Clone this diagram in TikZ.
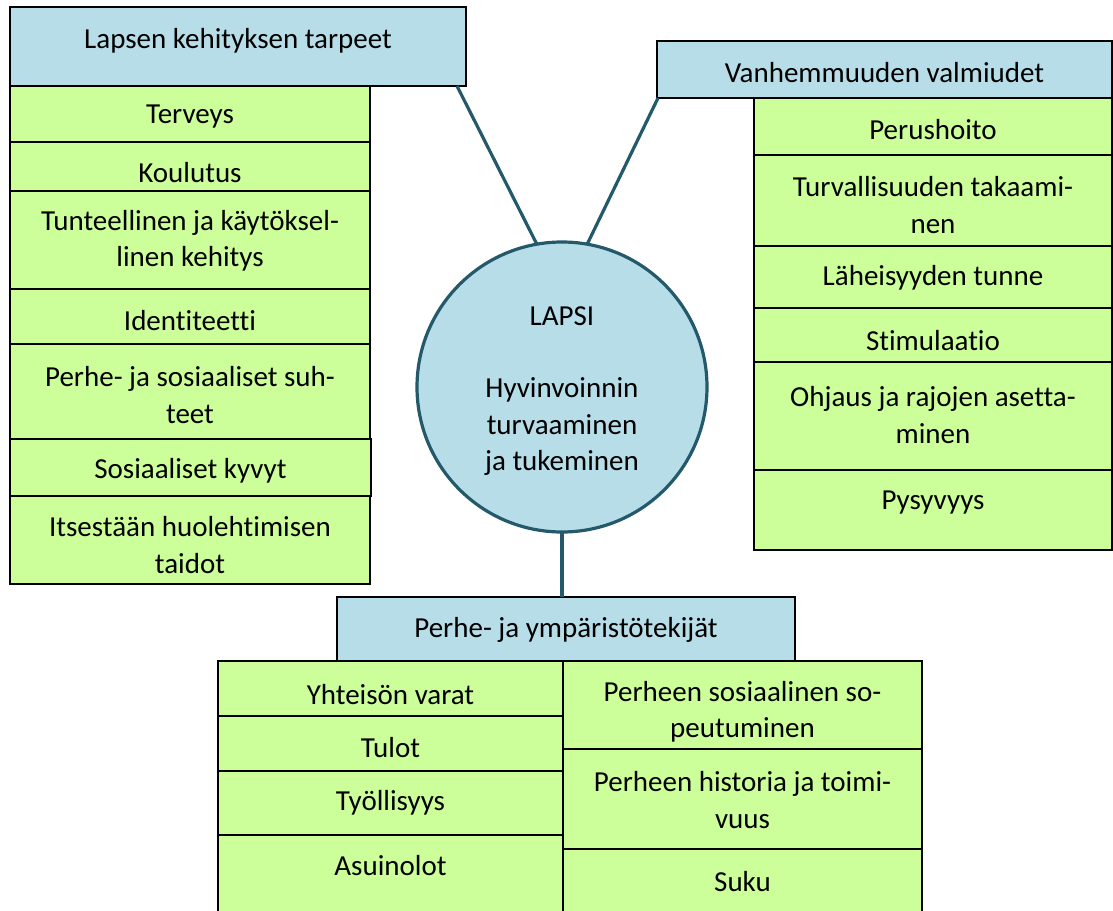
\documentclass[tikz,border=0pt]{standalone}
\usepackage{fontspec}
\setmainfont{Carlito}[Ligatures=NoCommon]
\definecolor{hdrblue}{HTML}{B7DDE8}
\definecolor{cellgreen}{HTML}{CCFF99}
\definecolor{linkteal}{HTML}{23596A}
\tikzset{
  boxbase/.style={rectangle, draw=black, line width=1.8pt, inner sep=0pt, outer sep=0pt},
  hdrbox/.style={boxbase, fill=hdrblue},
  cellbox/.style={boxbase, fill=cellgreen},
  celltext/.style={align=center, inner sep=0pt, font=\fontsize{29}{36.5}\selectfont},
  link/.style={draw=linkteal, line width=3.2pt},
  hub/.style={circle, draw=linkteal, line width=3.2pt, fill=hdrblue, minimum size=290pt, inner sep=0pt, outer sep=0pt}
}
% #1 name, #2 style, #3 x1, #4 y1, #5 x2, #6 y2, #7 text y, #8 text
\newcommand{\mycell}[8]{%
  \node[#2, minimum width={(#5-#3)*1pt}, minimum height={(#6-#4)*1pt}] (#1) at ({(#3+#5)/2},{(#4+#6)/2}) {};
  \node[celltext] (#1-t) at ({(#3+#5)/2},{#7+3}) {#8};
}
\begin{document}
\begin{tikzpicture}[x=1pt,y=-1pt]
\useasboundingbox (0,0) rectangle (1113,910);
\clip (0,0) rectangle (1113,910);

% link start points on the header edges
\coordinate (lstart) at (457,86);
\coordinate (rstart) at (658,98);

% left group
\mycell{hl}{hdrbox}{10}{7}{466}{86}{38}{Lapsen kehityksen tarpeet}
\mycell{l1}{cellbox}{10}{86}{370}{142}{114}{Terveys}
\mycell{l2}{cellbox}{10}{142}{370}{191}{170}{Koulutus}
\mycell{l3}{cellbox}{10}{191}{370}{289}{238}{Tunteellinen ja käytöksel-\\linen kehitys}
\mycell{l4}{cellbox}{10}{289}{370}{344}{318}{Identiteetti}
\mycell{l5}{cellbox}{10}{344}{370}{439}{392}{Perhe- ja sosiaaliset suh-\\teet}
\mycell{l6}{cellbox}{10}{439}{371}{496}{468}{Sosiaaliset kyvyt}
\mycell{l7}{cellbox}{10}{496}{370}{584}{542}{Itsestään huolehtimisen\\taidot}

% right group
\mycell{hr}{hdrbox}{657}{41}{1112}{98}{70}{Vanhemmuuden valmiudet}
\mycell{r1}{cellbox}{754}{98}{1112}{155}{127}{Perushoito}
\mycell{r2}{cellbox}{754}{155}{1112}{246}{202}{Turvallisuuden takaami-\\nen}
\mycell{r3}{cellbox}{754}{246}{1112}{308}{275}{Läheisyyden tunne}
\mycell{r4}{cellbox}{754}{308}{1112}{362}{338}{Stimulaatio}
\mycell{r5}{cellbox}{754}{362}{1112}{470}{412}{Ohjaus ja rajojen asetta-\\minen}
\mycell{r6}{cellbox}{754}{470}{1112}{550}{500}{Pysyvyys}

% bottom group
\mycell{hb}{hdrbox}{337}{597}{795}{661}{627}{Perhe- ja ympäristötekijät}
\mycell{b1}{cellbox}{218}{661}{563}{716}{692}{Yhteisön varat}
\mycell{b2}{cellbox}{218}{716}{563}{771}{745}{Tulot}
\mycell{b3}{cellbox}{218}{771}{563}{835}{800}{Työllisyys}
\mycell{b4}{cellbox}{218}{835}{563}{925}{863}{Asuinolot}
\mycell{c1}{cellbox}{563}{661}{922}{749}{709}{Perheen sosiaalinen so-\\peutuminen}
\mycell{c2}{cellbox}{563}{749}{922}{849}{797}{Perheen historia ja toimi-\\vuus}
\mycell{c3}{cellbox}{563}{849}{922}{925}{879}{Suku}

% hub
\node[hub] (lapsi) at (562,387) {};
\node[celltext] (lapsi-t) at (562,391) {LAPSI\\[36pt]Hyvinvoinnin\\turvaaminen\\ja tukeminen};

\draw[link] (lstart) -- (lapsi.100);
\draw[link] (rstart) -- (lapsi.80);
\draw[link] (lapsi.south) -- (lapsi.south |- hb.north);
\end{tikzpicture}
\end{document}
